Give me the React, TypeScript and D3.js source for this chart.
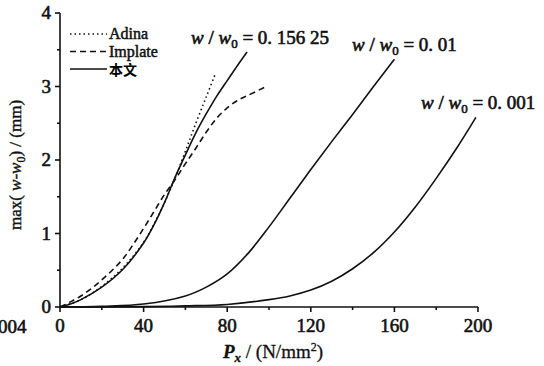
import { useEffect, useRef } from 'react';
import * as d3 from 'd3';

// curve data, P_x in N/mm^2, max(w-w0) in mm
const adinaX = [0, 10, 20, 30, 40, 45, 50, 55, 60, 65, 70, 74.3];
const adinaY = [0, 0.1, 0.28, 0.53, 0.88, 1.13, 1.42, 1.75, 2.12, 2.5, 2.86, 3.17];

const implateX = [0, 5, 10, 15, 20, 25, 30, 35, 40, 45, 50, 55, 60, 65, 70, 75, 80, 85, 90, 98];
const implateY = [0, 0.07, 0.15, 0.25, 0.37, 0.5, 0.65, 0.85, 1.07, 1.3, 1.53, 1.73, 1.95, 2.16, 2.38, 2.57, 2.71, 2.81, 2.88, 2.99];

const w15625X = [0, 5, 10, 20, 30, 40, 45, 50, 55, 60, 65, 70, 75, 80, 85, 89.5];
const w15625Y = [0, 0.04, 0.1, 0.27, 0.51, 0.87, 1.12, 1.42, 1.76, 2.07, 2.37, 2.63, 2.87, 3.08, 3.29, 3.47];

const w01X = [0, 20, 40, 60, 70, 80, 90, 100, 110, 120, 130, 140, 150, 160];
const w01Y = [0, 0.01, 0.04, 0.15, 0.27, 0.45, 0.73, 1.09, 1.48, 1.87, 2.25, 2.62, 3.0, 3.37];

const w001X = [0, 40, 60, 80, 100, 110, 120, 130, 140, 150, 160, 170, 180, 190, 199];
const w001Y = [0, 0.005, 0.015, 0.035, 0.1, 0.15, 0.23, 0.35, 0.52, 0.74, 1.02, 1.36, 1.75, 2.17, 2.58];

const xTicks = [0, 40, 80, 120, 160, 200];
const xMinor = [20, 60, 100, 140, 180];
const yTicks = [0, 1, 2, 3, 4];
const yMinor = [0.5, 1.5, 2.5, 3.5];

const legendItems = [
  { label: 'Adina', dash: '1.5,3' },
  { label: 'Implate', dash: '6,4' },
  { label: '本文', dash: null },
];

const FONT = 'Liberation Serif, Times New Roman, serif';
const CJK = 'Noto Sans CJK SC, sans-serif';

export default function App() {
  const svgRef = useRef<SVGSVGElement | null>(null);

  useEffect(() => {
    const svg = d3.select(svgRef.current);
    svg.selectAll('*').remove();

    const x = d3.scaleLinear().domain([0, 200]).range([60, 478]);
    const y = d3.scaleLinear().domain([0, 4]).range([307, 13]);

    const line = d3.line<[number, number]>()
      .x(d => x(d[0]))
      .y(d => y(d[1]))
      .curve(d3.curveCatmullRom.alpha(0.5));

    const zip = (xs: number[], ys: number[]) => xs.map((v, i) => [v, ys[i]] as [number, number]);

    // faux bold: normal serif with a thin outline
    const heavy = (sel: any, w = 0.6) => sel.attr('stroke', '#111').attr('stroke-width', w).attr('fill', '#111');

    // axes
    const ax = svg.append('g').attr('stroke', '#111').attr('stroke-width', 1.6);
    ax.append('line').attr('x1', x(0)).attr('x2', x(200)).attr('y1', y(0)).attr('y2', y(0));
    ax.append('line').attr('x1', x(0)).attr('x2', x(0)).attr('y1', y(0)).attr('y2', y(4));
    xTicks.forEach(t => ax.append('line').attr('x1', x(t)).attr('x2', x(t)).attr('y1', y(0)).attr('y2', y(0) + 5));
    xMinor.forEach(t => ax.append('line').attr('x1', x(t)).attr('x2', x(t)).attr('y1', y(0)).attr('y2', y(0) + 3));
    yTicks.forEach(t => ax.append('line').attr('x1', x(0) - 5).attr('x2', x(0)).attr('y1', y(t)).attr('y2', y(t)));
    yMinor.forEach(t => ax.append('line').attr('x1', x(0) - 3).attr('x2', x(0)).attr('y1', y(t)).attr('y2', y(t)));

    heavy(svg.append('g').selectAll('text').data(xTicks).enter().append('text')
      .attr('x', d => x(d)).attr('y', 332)
      .attr('text-anchor', 'middle')
      .attr('font-family', FONT).attr('font-size', 19)
      .text(d => d));

    heavy(svg.append('g').selectAll('text').data(yTicks).enter().append('text')
      .attr('x', 51).attr('y', d => y(d) + 6)
      .attr('text-anchor', 'end')
      .attr('font-family', FONT).attr('font-size', 19)
      .text(d => d));

    // leftover from the neighbouring figure
    heavy(svg.append('text').attr('x', -2).attr('y', 333)
      .attr('font-family', FONT).attr('font-size', 19)
      .text('004'));

    // curves
    const curves = [
      { data: zip(adinaX, adinaY), dash: '1.5,3' },
      { data: zip(implateX, implateY), dash: '6,4' },
      { data: zip(w15625X, w15625Y), dash: null },
      { data: zip(w01X, w01Y), dash: null },
      { data: zip(w001X, w001Y), dash: null },
    ];
    curves.forEach(c => {
      svg.append('path')
        .attr('d', line(c.data))
        .attr('fill', 'none')
        .attr('stroke', '#111')
        .attr('stroke-width', 1.6)
        .attr('stroke-dasharray', c.dash);
    });

    // legend
    const legend = svg.append('g');
    legendItems.forEach((item, i) => {
      const ly = 34 + i * 17.5;
      legend.append('line')
        .attr('x1', 70).attr('x2', 107).attr('y1', ly).attr('y2', ly)
        .attr('stroke', '#111').attr('stroke-width', 1.6)
        .attr('stroke-dasharray', item.dash);
      const t = legend.append('text')
        .attr('x', 109).attr('y', ly + (i === 2 ? 6 : 5))
        .attr('font-family', i === 2 ? CJK : FONT)
        .attr('font-size', i === 2 ? 14 : 16)
        .attr('font-weight', i === 2 ? 'bold' : 'normal')
        .text(item.label);
      if (i !== 2) heavy(t, 0.5);
    });

    // curve labels
    const labels = [
      { x: 191, y: 44, value: '0. 156 25' },
      { x: 352, y: 51, value: '0. 01' },
      { x: 421, y: 109, value: '0. 001' },
    ];
    labels.forEach(l => {
      const t = svg.append('text')
        .attr('x', l.x).attr('y', l.y)
        .attr('font-family', FONT).attr('font-size', 19);
      heavy(t, 0.6);
      t.append('tspan').attr('font-style', 'italic').text('w');
      t.append('tspan').text(' / ');
      t.append('tspan').attr('font-style', 'italic').text('w');
      t.append('tspan').attr('dy', 4).attr('font-size', 13).text('0');
      t.append('tspan').attr('dy', -4).text(' = ' + l.value);
    });

    // axis titles
    const xt = svg.append('text')
      .attr('x', 273).attr('y', 358).attr('text-anchor', 'middle')
      .attr('font-family', FONT).attr('font-size', 19);
    heavy(xt, 0.3);
    xt.append('tspan').attr('font-style', 'italic').attr('font-weight', 'bold').text('P');
    xt.append('tspan').attr('dy', 4).attr('font-size', 13).attr('font-style', 'italic').attr('font-weight', 'bold').text('x');
    xt.append('tspan').attr('dy', -4).text(' / (N/mm');
    xt.append('tspan').attr('dy', -7).attr('font-size', 12).text('2');
    xt.append('tspan').attr('dy', 7).text(')');

    const yt = svg.append('text')
      .attr('transform', 'translate(21,165) rotate(-90)')
      .attr('text-anchor', 'middle')
      .attr('font-family', FONT).attr('font-size', 17);
    heavy(yt, 0.4);
    yt.append('tspan').text('max( ');
    yt.append('tspan').attr('font-style', 'italic').text('w');
    yt.append('tspan').text('-');
    yt.append('tspan').attr('font-style', 'italic').text('w');
    yt.append('tspan').attr('dy', 4).attr('font-size', 12).text('0');
    yt.append('tspan').attr('dy', -4).text(') / (mm)');
  }, []);

  return (
    <svg
      ref={svgRef}
      width={544}
      height={366}
      style={{ position: 'absolute', left: 0, top: 0, background: '#fff' }}
    />
  );
}
